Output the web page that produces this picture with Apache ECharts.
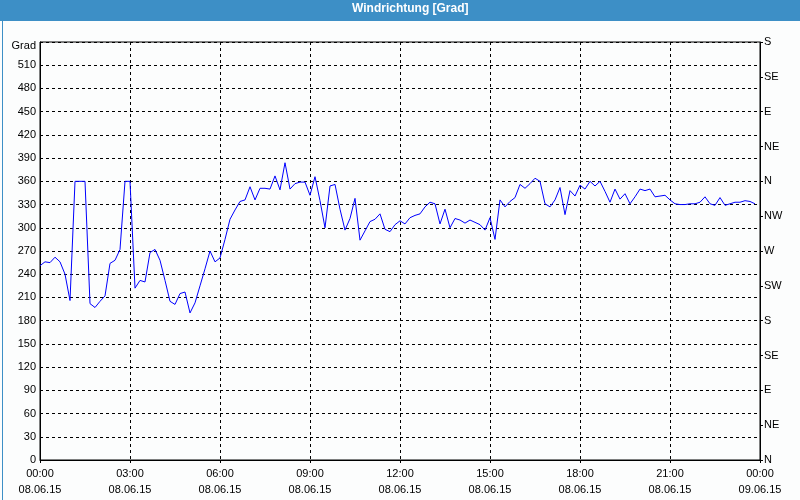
<!DOCTYPE html>
<html>
<head>
<meta charset="utf-8">
<script src="https://cdn.jsdelivr.net/npm/echarts@6/dist/echarts.min.js"></script>
<style>
html,body{margin:0;padding:0;background:#fcfdfd;}
#chart{width:800px;height:500px;}
</style>
</head>
<body>
<div id="chart"></div>
<script>
// Wind direction in degrees, one reading every 10 minutes starting 08.06.15 00:00
var stepMinutes = 10;
var windDir = [
  251,256,255,262,256,240,206,360,360,360,202,197,205,212,254,258,272,360,360,222,
  232,230,268,272,258,232,205,201,215,217,190,203,225,247,270,256,261,285,311,323,
  334,336,353,336,351,351,350,367,349,384,350,357,359,359,342,366,335,300,354,356,
  324,297,312,338,284,296,308,311,318,298,295,304,309,305,313,316,318,327,333,331,
  305,324,300,312,310,306,310,307,304,297,313,285,336,327,334,339,356,351,357,364,
  360,331,327,336,352,317,348,341,355,350,360,354,360,347,333,350,337,344,331,340,
  350,348,350,340,341,342,336,331,330,330,331,331,333,340,331,329,339,329,331,333,
  333,335,334,331
];
var xTickTimes = ['00:00','03:00','06:00','09:00','12:00','15:00','18:00','21:00','00:00'];
var xTickDates = ['08.06.15','08.06.15','08.06.15','08.06.15','08.06.15','08.06.15','08.06.15','08.06.15','09.06.15'];
var leftUnit = 'Grad';
var dirLabels = ['N','NE','E','SE','S','SW','W','NW','N','NE','E','SE','S'];
var titleText = 'Windrichtung [Grad]';

var seriesData = windDir.map(function (v, i) { return [i * stepMinutes, v]; });

var font = 'Liberation Sans';
var chart = echarts.init(document.getElementById('chart'), null, {renderer: 'canvas'});
chart.setOption({
  backgroundColor: '#fcfdfd',
  animation: false,
  graphic: [
    {type: 'rect', left: 0, top: 0, shape: {width: 800, height: 21}, style: {fill: '#3d8fc6'}, z: 0},
    {type: 'rect', left: 0, top: 0, shape: {width: 799, height: 499}, style: {fill: 'none', stroke: '#3d8fc6', lineWidth: 1}, z: 0},
    {type: 'text', left: 352, top: 3, style: {text: titleText, fill: '#ffffff', font: 'bold 12px "Liberation Sans"'}, z: 1}
  ],
  grid: {left: 40, right: 40, top: 42, bottom: 40, show: true, borderColor: '#000', borderWidth: 1, backgroundColor: 'transparent'},
  xAxis: {
    type: 'value', min: 0, max: 1440, interval: 180,
    axisLine: {show: true, lineStyle: {color: '#000', width: 1}},
    axisTick: {show: true, length: 3, lineStyle: {color: '#000'}},
    splitLine: {show: true, lineStyle: {color: '#000', type: [3, 3], width: 1}},
    axisLabel: {
      color: '#000', fontFamily: font, fontSize: 11, lineHeight: 16, margin: 6,
      formatter: function (v) { var k = Math.round(v / 180); return xTickTimes[k] + '\n' + xTickDates[k]; }
    }
  },
  yAxis: [
    {
      type: 'value', min: 0, max: 540, interval: 30, position: 'left',
      axisLine: {show: true, lineStyle: {color: '#000', width: 1}},
      axisTick: {show: false},
      splitLine: {show: true, lineStyle: {color: '#000', type: [3, 3], width: 1}},
      axisLabel: {
        color: '#000', fontFamily: font, fontSize: 11, margin: 4,
        formatter: function (v) { return v === 540 ? '{g|' + leftUnit + '}' : String(v); },
        rich: {g: {color: '#000', fontFamily: font, fontSize: 11, padding: [8, 0, 0, 0]}}
      }
    },
    {
      type: 'value', min: 0, max: 540, interval: 45, position: 'right',
      axisLine: {show: true, lineStyle: {color: '#000', width: 1}},
      axisTick: {show: true, length: 3, inside: false, lineStyle: {color: '#000'}},
      splitLine: {show: false},
      axisLabel: {
        color: '#000', fontFamily: font, fontSize: 11, margin: 4,
        formatter: function (v) { return dirLabels[Math.round(v / 45)]; }
      }
    }
  ],
  series: [{
    type: 'line', data: seriesData, showSymbol: false, symbol: 'none',
    lineStyle: {color: '#0000ff', width: 1}, yAxisIndex: 0
  }]
});
</script>
</body>
</html>
